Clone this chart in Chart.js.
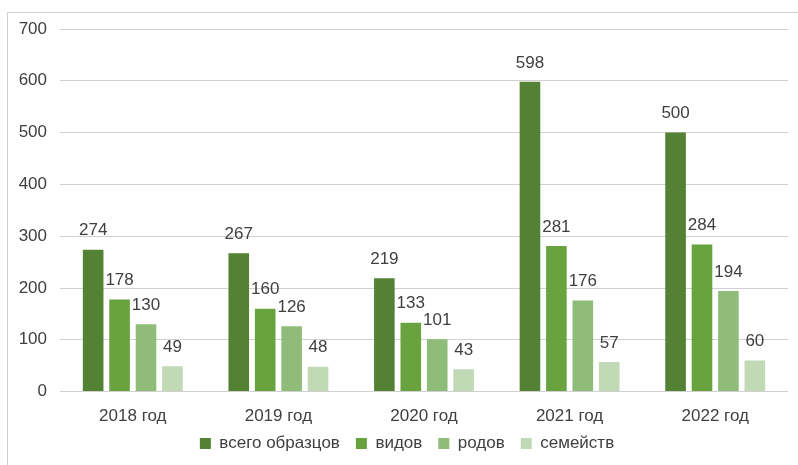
<!DOCTYPE html>
<html>
<head>
<meta charset="utf-8">
<script src="https://cdn.jsdelivr.net/npm/chart.js@4/dist/chart.umd.min.js"></script>
<style>
  body { margin: 0; background: #fff; }
  .wrap { position: relative; width: 798px; height: 465px; }
  .frame { position: absolute; left: 7px; top: 12px; right: -5px; bottom: -5px;
           border-left: 1px solid #d0d0d0; border-top: 1px solid #d0d0d0; }
  canvas { position: absolute; left: 0; top: 0; }
</style>
</head>
<body>
<div class="wrap">
  <div class="frame"></div>
  <canvas id="myChart" width="798" height="465"></canvas>
</div>
<script>
// годы и ряды
var years = ["2018 год", "2019 год", "2020 год", "2021 год", "2022 год"];
var seriesNames = ["всего образцов", "видов", "родов", "семейств"];
var samples = [274, 267, 219, 598, 500];
var species = [178, 160, 133, 281, 284];
var genera = [130, 126, 101, 176, 194];
var families = [49, 48, 43, 57, 60];
var colors = ["#548235", "#68a340", "#8fbc78", "#c1d9b5"];

var FONT = "'Liberation Sans', Arial, sans-serif";

// подписи значений над столбиками
var valueLabels = {
  id: "valueLabels",
  afterDatasetsDraw(chart) {
    var ctx = chart.ctx;
    ctx.save();
    ctx.font = "17px " + FONT;
    ctx.fillStyle = "#404040";
    ctx.textAlign = "center";
    ctx.textBaseline = "middle";
    chart.data.datasets.forEach(function (ds, i) {
      chart.getDatasetMeta(i).data.forEach(function (bar, j) {
        ctx.fillText(ds.data[j], bar.x, bar.y - 19);
      });
    });
    ctx.restore();
  }
};

// легенду чуть выше и правее, ближе к подписям годов
var legendShift = {
  id: "legendShift",
  afterLayout(chart) {
    var lg = chart.legend;
    lg.top -= 15; lg.bottom -= 15;
    lg.left += 13; lg.right += 13;
  }
};

var allSeries = [samples, species, genera, families];

new Chart("myChart", {
  type: "bar",
  data: {
    labels: years,
    datasets: allSeries.map(function (d, i) {
      return {
        label: seriesNames[i],
        data: d,
        backgroundColor: colors[i],
        barPercentage: 0.78,
        categoryPercentage: 0.726
      };
    })
  },
  options: {
    responsive: false,
    animation: false,
    layout: { padding: { top: 29, right: 10, left: 0, bottom: -12 } },
    plugins: {
      legend: {
        position: "bottom",
        labels: {
          color: "#404040",
          font: { family: FONT, size: 17 },
          boxWidth: 11,
          boxHeight: 11,
          padding: 16
        }
      },
      tooltip: { enabled: false }
    },
    scales: {
      x: {
        grid: { display: false },
        border: { display: false },
        ticks: { color: "#404040", font: { family: FONT, size: 17 }, padding: 7 }
      },
      y: {
        min: 0,
        max: 700,
        afterFit(scale) { scale.width = 60; },
        grid: { color: "#d0d0d0", drawTicks: false },
        border: { display: false },
        ticks: { stepSize: 100, color: "#404040", font: { family: FONT, size: 17 }, padding: 13 }
      }
    }
  },
  plugins: [valueLabels, legendShift]
});
</script>
</body>
</html>
